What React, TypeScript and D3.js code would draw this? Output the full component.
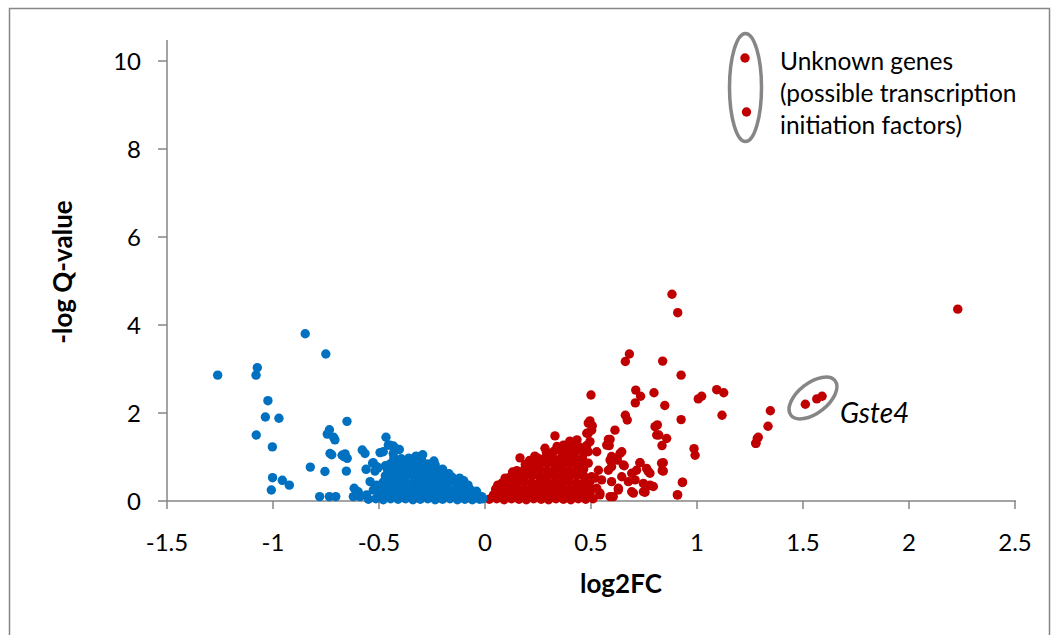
import React from "react";
import * as d3 from "d3";

// ---- data (log2FC, -log Q-value) ----
const downOutliers: [number, number][] = [
  [-1.261, 2.86], [-0.848, 3.8], [-0.751, 3.34], [-1.074, 3.03], [-1.08, 2.86], [-1.024, 2.28],
  [-1.036, 1.91], [-0.972, 1.88], [-1.079, 1.5], [-1.003, 1.23], [-1.002, 0.53], [-0.956, 0.47],
  [-0.923, 0.36], [-1.008, 0.25], [-0.824, 0.77], [-0.755, 0.67], [-0.78, 0.1], [-0.734, 0.1],
  [-0.704, 0.1], [-0.651, 1.81], [-0.734, 1.62], [-0.744, 1.52], [-0.714, 1.45], [-0.708, 1.39],
  [-0.731, 1.08], [-0.723, 1.05], [-0.66, 1.07], [-0.665, 1.01], [-0.65, 0.97], [-0.674, 1.04],
  [-0.654, 0.68], [-0.579, 1.16], [-0.566, 1.08], [-0.561, 0.72], [-0.53, 0.86], [-0.519, 0.68],
  [-0.542, 0.44], [-0.495, 1.1], [-0.617, 0.29], [-0.598, 0.21], [-0.621, 0.1], [-0.59, 0.1],
  [-0.558, 0.14], [-0.527, 0.25], [-0.511, 0.36],
  [-0.467, 1.45], [-0.48, 1.12], [-0.448, 1.27], [-0.456, 1.27], [-0.432, 1.25], [-0.425, 1.2],
  [-0.404, 1.17], [-0.417, 1.18], [-0.433, 1.08], [-0.527, 0.87], [-0.511, 0.78], [-0.505, 0.75],
  [-0.47, 0.8], [-0.455, 0.72], [-0.325, 1.02], [-0.294, 1.05], [-0.241, 0.91],
  [-0.2, 0.72], [-0.17, 0.62], [-0.12, 0.52], [-0.08, 0.36],
];

const downMass: [number, number][] = [
  [-0.55, 0.04], [-0.515, 0.05], [-0.48, 0.03], [-0.445, 0.05], [-0.41, 0.04], [-0.375, 0.05],
  [-0.34, 0.03], [-0.305, 0.04], [-0.27, 0.05], [-0.235, 0.03], [-0.2, 0.04], [-0.165, 0.05],
  [-0.13, 0.03], [-0.095, 0.04], [-0.06, 0.03], [-0.025, 0.04], [-0.01, 0.05],
  [-0.5, 0.16], [-0.465, 0.14], [-0.43, 0.15], [-0.395, 0.16], [-0.36, 0.14], [-0.325, 0.15],
  [-0.29, 0.16], [-0.255, 0.14], [-0.22, 0.15], [-0.185, 0.16], [-0.15, 0.14], [-0.115, 0.15],
  [-0.08, 0.14], [-0.045, 0.13], [-0.015, 0.1],
  [-0.49, 0.29], [-0.455, 0.27], [-0.42, 0.28], [-0.385, 0.3], [-0.35, 0.27], [-0.315, 0.28],
  [-0.28, 0.29], [-0.245, 0.27], [-0.21, 0.29], [-0.175, 0.28], [-0.14, 0.27], [-0.105, 0.29],
  [-0.07, 0.26], [-0.04, 0.22],
  [-0.48, 0.43], [-0.445, 0.41], [-0.41, 0.42], [-0.375, 0.44], [-0.34, 0.41], [-0.305, 0.42],
  [-0.27, 0.43], [-0.235, 0.41], [-0.2, 0.42], [-0.165, 0.44], [-0.13, 0.41], [-0.1, 0.46],
  [-0.47, 0.57], [-0.435, 0.55], [-0.4, 0.56], [-0.365, 0.58], [-0.33, 0.55], [-0.295, 0.56],
  [-0.26, 0.57], [-0.225, 0.55], [-0.19, 0.56], [-0.155, 0.54],
  [-0.46, 0.71], [-0.425, 0.69], [-0.39, 0.7], [-0.355, 0.72], [-0.32, 0.69], [-0.285, 0.7],
  [-0.25, 0.71], [-0.215, 0.69],
  [-0.445, 0.85], [-0.41, 0.83], [-0.375, 0.84], [-0.34, 0.86], [-0.305, 0.83], [-0.27, 0.84],
  [-0.235, 0.82],
  [-0.43, 0.98], [-0.395, 0.96], [-0.36, 0.97], [-0.33, 0.99], [-0.3, 0.96],
];

const upOutliers: [number, number][] = [
  [0.882, 4.7], [0.909, 4.28], [0.681, 3.34], [0.662, 3.17], [0.838, 3.18], [0.925, 2.86],
  [0.5, 2.41], [0.711, 2.52], [0.734, 2.38], [0.709, 2.23], [0.797, 2.46], [0.848, 2.17],
  [1.006, 2.32], [1.022, 2.38], [1.093, 2.53], [1.126, 2.46], [1.118, 1.95], [0.925, 1.85],
  [0.662, 1.95], [0.671, 1.84], [0.813, 1.73], [0.82, 1.5], [0.857, 1.42], [0.835, 1.26],
  [0.613, 1.61], [0.59, 1.4], [0.586, 1.26], [0.495, 1.82], [0.506, 1.71], [0.487, 1.54],
  [0.986, 1.19], [0.991, 1.04], [0.841, 0.87], [0.841, 0.68], [0.932, 0.43], [0.907, 0.14],
  [1.277, 1.31], [1.284, 1.42], [0.731, 0.87], [0.77, 0.67], [0.778, 0.35], [0.755, 0.2],
  [2.23, 4.36], [1.346, 2.05], [1.335, 1.7], [1.289, 1.45], [1.278, 1.31],
  [1.511, 2.2], [1.565, 2.32], [1.59, 2.38],
  [0.582, 1.4], [0.574, 1.27], [0.645, 1.12], [0.597, 1.01], [0.624, 0.93], [0.597, 0.78],
  [0.652, 0.82], [0.715, 0.7], [0.762, 0.74], [0.778, 0.63], [0.794, 0.33], [0.747, 0.21],
  [0.692, 0.21], [0.629, 0.25], [0.59, 0.1], [0.542, 0.14], [0.527, 0.29], [0.495, 0.44],
  [0.503, 0.55], [0.802, 1.69], [0.81, 1.5],
  [0.487, 1.77], [0.503, 1.61], [0.495, 1.35], [0.487, 1.12], [0.527, 1.12],
  [0.637, 1.08], [0.621, 0.97], [0.59, 0.93], [0.582, 0.7], [0.657, 0.8], [0.731, 0.87],
  [0.692, 0.63], [0.645, 0.55], [0.676, 0.44], [0.708, 0.48], [0.747, 0.4], [0.778, 0.36],
  [0.833, 0.86], [0.836, 0.69], [0.535, 0.7], [0.519, 0.52], [0.55, 0.48], [0.597, 0.44],
  [0.629, 0.29], [0.542, 0.18], [0.605, 0.1], [0.7, 0.18], [0.931, 0.42], [0.909, 0.14],
  [0.487, 0.86], [0.495, 0.48], [0.48, 0.33],
  [0.165, 0.98], [0.283, 1.2], [0.33, 1.48], [0.37, 1.27], [0.434, 1.39], [0.48, 1.54],
  [0.21, 0.92], [0.235, 1.02], [0.13, 0.66], [0.095, 0.52], [0.06, 0.36], [0.4, 1.36],
];

const upMass: [number, number][] = [
  [0.02, 0.04], [0.055, 0.05], [0.09, 0.03], [0.125, 0.05], [0.16, 0.04], [0.195, 0.03],
  [0.23, 0.05], [0.265, 0.04], [0.3, 0.03], [0.335, 0.05], [0.37, 0.04], [0.405, 0.03],
  [0.44, 0.05], [0.475, 0.04], [0.51, 0.05],
  [0.04, 0.14], [0.075, 0.16], [0.11, 0.15], [0.145, 0.14], [0.18, 0.16], [0.215, 0.15],
  [0.25, 0.14], [0.285, 0.16], [0.32, 0.15], [0.355, 0.14], [0.39, 0.16], [0.425, 0.15],
  [0.46, 0.14], [0.495, 0.16],
  [0.05, 0.27], [0.085, 0.29], [0.12, 0.28], [0.155, 0.3], [0.19, 0.27], [0.225, 0.28],
  [0.26, 0.29], [0.295, 0.27], [0.33, 0.28], [0.365, 0.3], [0.4, 0.27], [0.435, 0.28],
  [0.47, 0.29], [0.505, 0.27],
  [0.08, 0.41], [0.115, 0.43], [0.15, 0.42], [0.185, 0.44], [0.22, 0.41], [0.255, 0.42],
  [0.29, 0.43], [0.325, 0.41], [0.36, 0.42], [0.395, 0.44], [0.43, 0.41], [0.465, 0.42],
  [0.12, 0.55], [0.155, 0.57], [0.19, 0.56], [0.225, 0.58], [0.26, 0.55], [0.295, 0.56],
  [0.33, 0.57], [0.365, 0.55], [0.4, 0.56], [0.435, 0.58], [0.47, 0.55],
  [0.15, 0.69], [0.185, 0.71], [0.22, 0.7], [0.255, 0.72], [0.29, 0.69], [0.325, 0.7],
  [0.36, 0.71], [0.395, 0.69], [0.43, 0.7], [0.465, 0.72],
  [0.19, 0.83], [0.225, 0.85], [0.26, 0.84], [0.295, 0.86], [0.33, 0.83], [0.365, 0.84],
  [0.4, 0.85], [0.435, 0.83], [0.47, 0.84],
  [0.25, 0.97], [0.285, 0.99], [0.32, 0.98], [0.355, 0.96], [0.39, 0.99], [0.425, 0.97],
  [0.46, 0.98],
  [0.29, 1.11], [0.325, 1.13], [0.36, 1.12], [0.395, 1.1], [0.43, 1.13], [0.47, 1.11],
  [0.34, 1.24], [0.375, 1.26], [0.41, 1.25], [0.445, 1.23], [0.48, 1.26],
];

const xTicks = [-1.5, -1, -0.5, 0, 0.5, 1, 1.5, 2, 2.5];
const yTicks = [0, 2, 4, 6, 8, 10];
const legendLines = ["Unknown genes", "(possible transcription", "initiation factors)"];

const BLUE = "#0070C0";
const RED = "#C00000";
const GRAY = "#868686";
const FONT = "Lato, 'Open Sans', sans-serif";

export default function App() {
  const x = d3.scaleLinear().domain([-1.5, 2.5]).range([167, 1015]);
  const y = d3.scaleLinear().domain([0, 10]).range([501, 61]);
  const r = 4.7;
  const fmt = (v: number) => String(v);

  return (
    <svg width={1057} height={635} style={{ position: "absolute", left: 0, top: 0 }} fontFamily={FONT}>
      <rect x={0} y={0} width={1057} height={635} fill="#fff" />
      <rect x={9.5} y={8.5} width={1040} height={660} fill="none" stroke={GRAY} strokeWidth={1.5} />

      {/* axes */}
      <line x1={167} x2={167} y1={40} y2={501} stroke={GRAY} strokeWidth={1.5} />
      <line x1={167} x2={1016} y1={501} y2={501} stroke={GRAY} strokeWidth={1.5} />
      {yTicks.map((t) => (
        <g key={"y" + t}>
          <line x1={158} x2={167} y1={y(t)} y2={y(t)} stroke={GRAY} strokeWidth={1.5} />
          <text x={141} y={y(t)} dy="0.36em" textAnchor="end" fontSize={24} fill="#000">
            {fmt(t)}
          </text>
        </g>
      ))}
      {xTicks.map((t) => (
        <g key={"x" + t}>
          <line x1={x(t)} x2={x(t)} y1={501} y2={509} stroke={GRAY} strokeWidth={1.5} />
          <text x={x(t)} y={551} textAnchor="middle" fontSize={24} fill="#000">
            {fmt(t)}
          </text>
        </g>
      ))}

      {/* points */}
      {upMass.concat(upOutliers).map(([a, b], i) => (
        <circle key={"u" + i} cx={x(a)} cy={y(b)} r={r} fill={RED} />
      ))}
      {downMass.concat(downOutliers).map(([a, b], i) => (
        <circle key={"d" + i} cx={x(a)} cy={y(b)} r={r} fill={BLUE} />
      ))}

      {/* Gste4 annotation */}
      <ellipse cx={813} cy={398} rx={28} ry={15} transform="rotate(-38 813 398)" fill="none" stroke={GRAY} strokeWidth={3.5} />
      <text x={840} y={423} fontSize={28} fontStyle="italic" fill="#000">Gste4</text>

      {/* legend annotation */}
      <ellipse cx={745.5} cy={87.5} rx={16} ry={54} fill="none" stroke={GRAY} strokeWidth={3.5} />
      <circle cx={745} cy={58} r={r} fill={RED} />
      <circle cx={746.5} cy={112} r={r} fill={RED} />
      {legendLines.map((s, i) => (
        <text key={s} x={780} y={70 + i * 32} fontSize={24.5} fill="#000">{s}</text>
      ))}

      {/* axis titles */}
      <text x={621} y={593} textAnchor="middle" fontSize={26} fontWeight="bold" fill="#000">log2FC</text>
      <text transform="translate(72,272) rotate(-90)" textAnchor="middle" fontSize={26} fontWeight="bold" fill="#000">-log Q-value</text>
    </svg>
  );
}
